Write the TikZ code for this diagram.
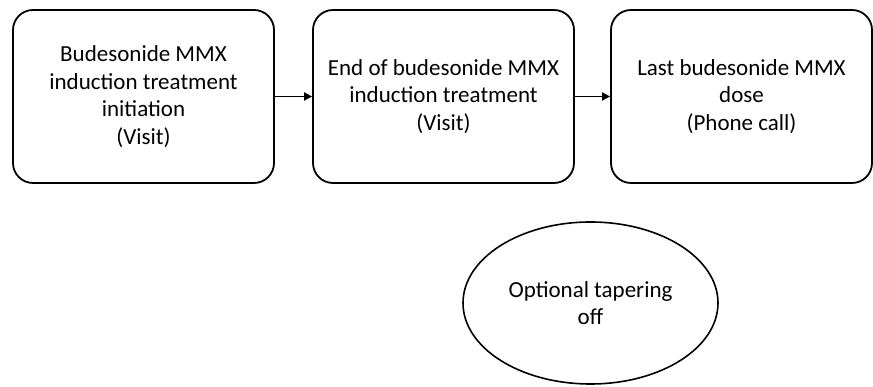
\documentclass[tikz,border=0pt]{standalone}
\usepackage{fontspec}
\setmainfont{Carlito}
\usetikzlibrary{shapes.geometric,arrows.meta}
\begin{document}
\begin{tikzpicture}[x=1pt,y=1pt,
  box/.style={draw=black,line width=1.8pt,rounded corners=20pt,minimum width=261pt,minimum height=173pt,align=center,font=\fontsize{23}{27.5}\selectfont,inner sep=0pt},
  oval/.style={draw=black,line width=1.6pt,ellipse,minimum width=255pt,minimum height=162pt,align=center,font=\fontsize{23}{27.5}\selectfont,inner sep=0pt},
  conn/.style={line width=1.8pt,-{Triangle[length=8pt,width=8pt]}}]
\useasboundingbox (0,0) rectangle (873,387);
\node[box] (a) at (143.5,290.5) {Budesonide MMX\\induction treatment\\initiation\\(Visit)};
\node[box] (b) at (443.5,290.5) {End of budesonide MMX\\induction treatment\\(Visit)};
\node[box] (c) at (741.5,290.5) {Last budesonide MMX\\dose\\(Phone call)};
\node[oval] (d) at (590.5,84) {Optional tapering\\off};
\draw[conn] (a) -- (b);
\draw[conn] (b) -- (c);
\end{tikzpicture}
\end{document}
